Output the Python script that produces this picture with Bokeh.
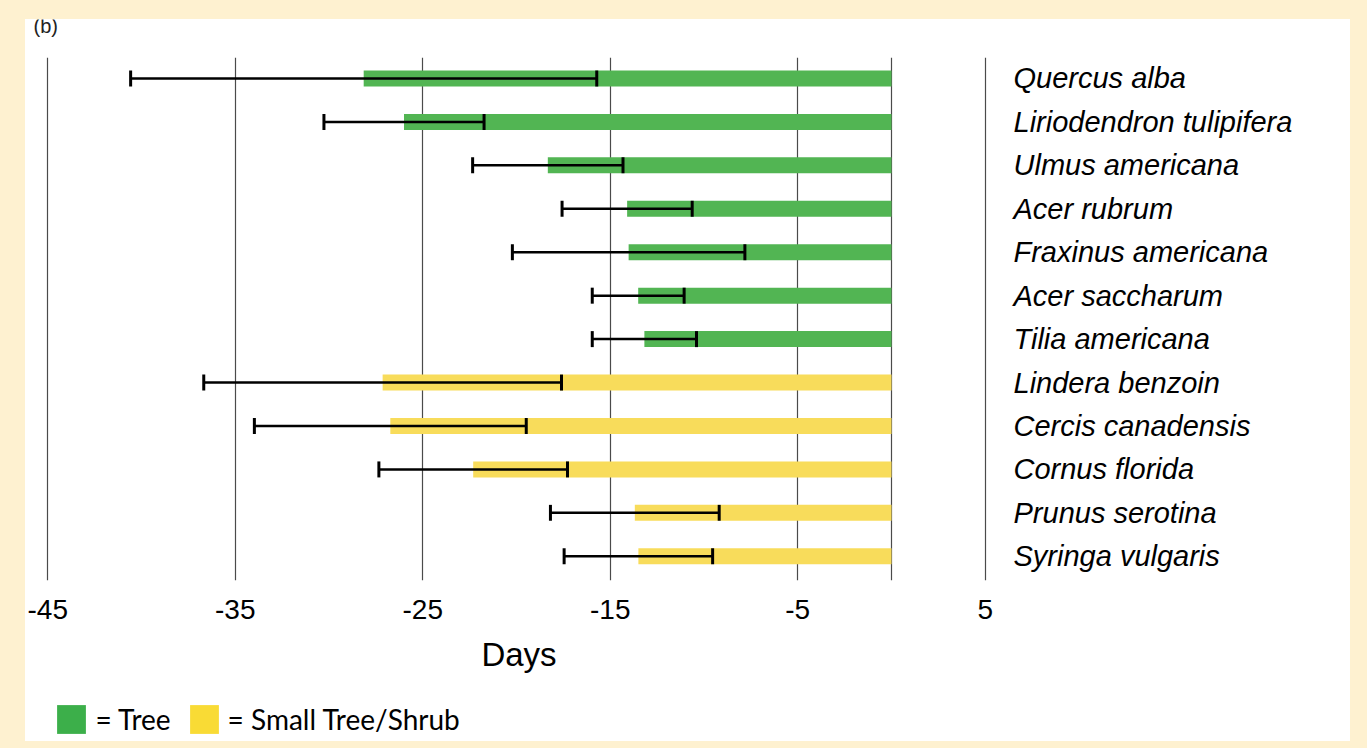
from bokeh.plotting import figure
from bokeh.models import (Range1d, FixedTicker, LinearAxis, ColumnDataSource, Whisker, TeeHead,
                          Legend, LegendItem, Label, Spacer, GlobalInlineStyleSheet)
from bokeh.layouts import column, row
from bokeh.embed import file_html
from bokeh.resources import INLINE

# ---- data ----
species = ["Quercus alba", "Liriodendron tulipifera", "Ulmus americana", "Acer rubrum",
           "Fraxinus americana", "Acer saccharum", "Tilia americana", "Lindera benzoin",
           "Cercis canadensis", "Cornus florida", "Prunus serotina", "Syringa vulgaris"]
group = ["Tree"] * 7 + ["Small Tree/Shrub"] * 5
onset_days = [-28.15, -26.0, -18.33, -14.1, -14.02, -13.51, -13.18, -27.14, -26.73, -22.31, -13.69, -13.5]
sd_days = [12.43, 4.27, 4.01, 3.47, 6.2, 2.45, 2.78, 9.54, 7.25, 5.03, 4.5, 3.96]
x_ticks = [-45, -35, -25, -15, -5, 5]
x_tick_labels = ["-45", "-35", "-25", "-15", "-5", "5"]
grid_ticks = [-45, -35, -25, -15, -5, 0, 5]
legend_groups = ["Tree", "Small Tree/Shrub"]

bar_colors = {"Tree": "#52B553", "Small Tree/Shrub": "#F8DC5B"}
legend_colors = {"Tree": "#3CAF4A", "Small Tree/Shrub": "#F9DB35"}

W = 1325
RIGHT = 338
WHITE = {"background-color": "white"}

idx = list(range(len(species)))
src = ColumnDataSource(dict(
    y=idx,
    left=onset_days,
    right=[0] * len(species),
    color=[bar_colors[g] for g in group],
    lower=[m - s for m, s in zip(onset_days, sd_days)],
    upper=[m + s for m, s in zip(onset_days, sd_days)],
))


def strip(height):
    f = figure(width=W, height=height, x_range=Range1d(0, 1), y_range=Range1d(0, 1),
               min_border_left=0, min_border_right=RIGHT, min_border_top=0, min_border_bottom=0,
               x_axis_location=None, y_axis_location=None,
               toolbar_location=None, output_backend="svg", styles=WHITE)
    f.grid.visible = False
    f.outline_line_color = None
    f.background_fill_color = "white"
    f.border_fill_color = "white"
    return f


# ---- top strip with the panel tag "(b)" (cut by the top edge) ----
top = strip(21)
top.add_layout(Label(x=8, y=14.5, x_units="screen", y_units="screen", text="(b)",
                     text_font="Liberation Sans", text_font_size="20px",
                     text_baseline="alphabetic", text_color="#222222"))

# ---- main chart ----
p = figure(width=W, height=655,
           x_range=Range1d(-46.187, 6.453), y_range=Range1d(11.557, -0.483),
           min_border_left=0, min_border_right=RIGHT, min_border_top=17, min_border_bottom=115,
           y_axis_location=None, toolbar_location=None, output_backend="svg", styles=WHITE)
p.background_fill_color = "white"
p.border_fill_color = "white"
p.outline_line_color = None

p.ygrid.visible = False
p.xgrid.ticker = FixedTicker(ticks=grid_ticks)
p.xgrid.grid_line_color = "#4a4a4a"
p.xgrid.grid_line_width = 1.2

p.hbar(y="y", left="left", right="right", height=0.368, color="color", line_color=None, source=src)

wh = Whisker(base="y", lower="lower", upper="upper", dimension="width", source=src,
             line_color="black", line_width=2.5, level="overlay",
             upper_head=TeeHead(size=16, line_width=3, line_color="black"),
             lower_head=TeeHead(size=16, line_width=3, line_color="black"))
p.add_layout(wh)

xa = p.xaxis[0]
xa.ticker = FixedTicker(ticks=x_ticks)
xa.major_label_overrides = {t: s for t, s in zip(x_ticks, x_tick_labels)}
xa.axis_line_color = None
xa.major_tick_line_color = None
xa.minor_tick_line_color = None
xa.major_tick_out = 0
xa.major_tick_in = 0
xa.major_label_standoff = 19
xa.major_label_text_font = "Liberation Sans"
xa.major_label_text_font_size = "28px"
xa.major_label_text_color = "black"
xa.axis_label = "Days"
xa.axis_label_text_font = "Liberation Sans"
xa.axis_label_text_font_style = "normal"
xa.axis_label_text_font_size = "33px"
xa.axis_label_text_color = "black"
xa.axis_label_standoff = 14

ya = LinearAxis(ticker=FixedTicker(ticks=idx),
                major_label_overrides={i: s for i, s in zip(idx, species)})
ya.axis_line_color = None
ya.major_tick_line_color = None
ya.minor_tick_line_color = None
ya.major_tick_out = 0
ya.major_tick_in = 0
ya.major_label_standoff = 1
ya.major_label_text_font = "Liberation Sans"
ya.major_label_text_font_style = "italic"
ya.major_label_text_font_size = "29px"
ya.major_label_text_color = "black"
p.add_layout(ya, "right")

# ---- legend strip (zero-size swatch renderers, only used by the legend) ----
leg = strip(46)
items = []
for g in legend_groups:
    r = leg.hbar(y=[-5], left=[0], right=[0], height=0.4, color=legend_colors[g], line_color=None)
    items.append(LegendItem(label="= " + g, renderers=[r]))
legend = Legend(items=items, orientation="horizontal", location=(28.4, 3.9),
                glyph_width=36, glyph_height=36, label_standoff=6, spacing=15,
                padding=0, margin=0, border_line_color=None, background_fill_alpha=0,
                label_text_font="Lato", label_text_font_size="28px", label_text_color="black")
leg.add_layout(legend)

p.stylesheets = [GlobalInlineStyleSheet(css="body { background-color: #FEF1D0; }")]

panel = column(top, p, leg, spacing=0, styles=WHITE)
layout = column(Spacer(height=19), row(Spacer(width=25), panel), spacing=0)

open("out.html", "w").write(file_html(layout, INLINE))
